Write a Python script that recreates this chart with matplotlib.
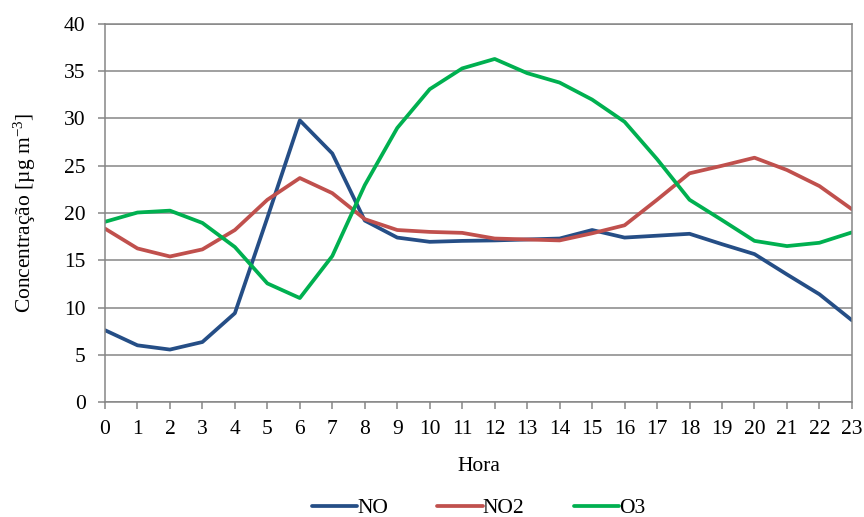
import numpy as np
import matplotlib
matplotlib.use("Agg")
import matplotlib.pyplot as plt

# ---------------------------------------------------------------
# Data (hourly mean concentrations)
# ---------------------------------------------------------------
hours = list(range(24))
no = [7.6, 6.0, 5.55, 6.35, 9.4, 19.5, 29.8, 26.3, 19.2, 17.4, 16.95, 17.05,
      17.1, 17.2, 17.3, 18.2, 17.4, 17.6, 17.8, 16.7, 15.65, 13.5, 11.4, 8.65]
no2 = [18.35, 16.25, 15.4, 16.15, 18.2, 21.4, 23.7, 22.1, 19.35, 18.2, 18.0, 17.9,
       17.3, 17.2, 17.1, 17.85, 18.7, 21.4, 24.2, 25.0, 25.85, 24.55, 22.85, 20.4]
o3 = [19.07, 20.05, 20.25, 18.95, 16.4, 12.55, 11.0, 15.45, 22.95, 29.0, 33.1, 35.3,
      36.3, 34.8, 33.8, 32.0, 29.65, 25.7, 21.4, 19.25, 17.05, 16.5, 16.85, 17.95]

series = [("NO", no, "#254E86"), ("NO2", no2, "#C0504D"), ("O3", o3, "#00B050")]

plt.rcParams["font.family"] = ["Liberation Serif", "DejaVu Serif"]
plt.rcParams["mathtext.fontset"] = "custom"
plt.rcParams["mathtext.rm"] = "Liberation Serif"
plt.rcParams["mathtext.it"] = "Liberation Serif:italic"

grey = "#868686"
fs = 15.5

fig = plt.figure(figsize=(8.64, 5.17), dpi=100)
ax = fig.add_axes([0.1215, 0.2224, 0.8645, 0.7312])

for name, vals, col in series:
    ax.plot(hours, vals, color=col, lw=2.7, label=name,
            solid_joinstyle="round", solid_capstyle="round")

ax.set_xlim(0, 23)
ax.set_ylim(0, 40)
ax.set_xticks(hours)
ax.set_yticks(np.arange(0, 41, 5))
ax.grid(axis="y", color=grey, lw=1.1)
ax.set_axisbelow(True)
for s in ax.spines.values():
    s.set_color(grey)
    s.set_linewidth(1.1)
ax.tick_params(axis="both", colors=grey, length=5, width=1.1, labelsize=fs,
               labelcolor="black")
ax.tick_params(axis="x", pad=8)
ax.tick_params(axis="y", pad=9)

ax.set_xlabel("Hora", fontsize=fs, labelpad=13)
ax.set_ylabel(r"Concentração [µg m$^{-3}$]", fontsize=fs, labelpad=19)

ax.legend(loc="upper center", bbox_to_anchor=(0.5, -0.203), ncol=3, frameon=False,
          fontsize=fs, handlelength=2.1, handletextpad=0.0, columnspacing=2.3)

fig.savefig("out.png", dpi=100)
